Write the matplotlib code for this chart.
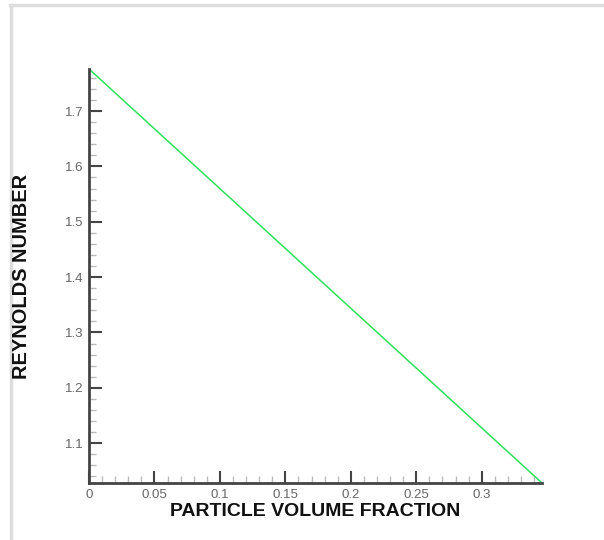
import matplotlib
matplotlib.use("Agg")
import matplotlib.pyplot as plt
from matplotlib.ticker import MultipleLocator
from matplotlib.lines import Line2D

# values
volume_fraction = [0.0, 0.346]
reynolds = [1.776, 1.028]
x_ticks = [0, 0.05, 0.1, 0.15, 0.2, 0.25, 0.3]
x_labels = ["0", "0.05", "0.1", "0.15", "0.2", "0.25", "0.3"]
y_ticks = [1.1, 1.2, 1.3, 1.4, 1.5, 1.6, 1.7]

plt.rcParams['font.family'] = ['Liberation Sans', 'DejaVu Sans']

fig = plt.figure(figsize=(6.04, 5.4), dpi=100)

# light frame at the top and left edges (drawn first, under the axes)
fig.add_artist(Line2D([11 / 604, 11 / 604], [0, 1 - 5 / 540],
                      transform=fig.transFigure, color="#dddddd", lw=2.5, zorder=0))
fig.add_artist(Line2D([10 / 604, 1], [1 - 5 / 540, 1 - 5 / 540],
                      transform=fig.transFigure, color="#dddddd", lw=2.5, zorder=0))

ax = fig.add_axes([89 / 604, 1 - 483 / 540, (542 - 89) / 604, (483 - 69) / 540])
ax.patch.set_alpha(0)

ax.plot(volume_fraction, reynolds, color="#2ee05a", lw=1.1)

ax.set_xlim(0, 0.346)
ax.set_ylim(1.028, 1.776)
ax.set_xticks(x_ticks)
ax.set_xticklabels(x_labels)
ax.set_yticks(y_ticks)
ax.xaxis.set_minor_locator(MultipleLocator(0.01))
ax.yaxis.set_minor_locator(MultipleLocator(0.02))

for s in ("top", "right"):
    ax.spines[s].set_visible(False)
for s in ("left", "bottom"):
    ax.spines[s].set_color("#444444")
    ax.spines[s].set_linewidth(2)

ax.tick_params(which="major", direction="in", length=9, width=1.5,
               color="#444444", labelsize=9.5, labelcolor="#666666", pad=4)
ax.tick_params(which="minor", direction="in", length=5, width=1, color="#bbbbbb")

ax.set_xlabel("PARTICLE VOLUME FRACTION", fontsize=14, fontweight="bold",
              color="#111111", labelpad=2)
ax.set_ylabel("REYNOLDS NUMBER", fontsize=14.4, fontweight="bold",
              color="#111111")
ax.yaxis.set_label_coords(-0.127, 0.5)

fig.savefig("out.png", dpi=100)
